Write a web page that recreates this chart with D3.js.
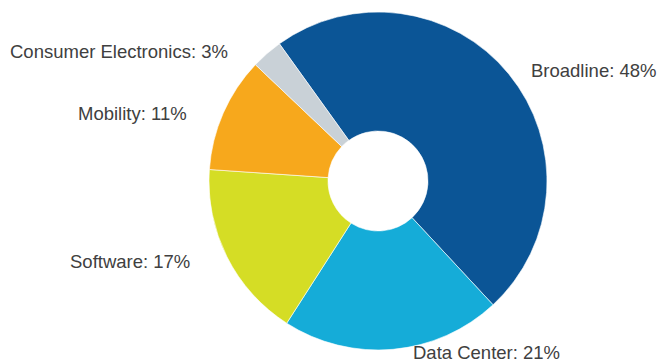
<!DOCTYPE html>
<html>
<head>
<meta charset="utf-8">
<script src="https://cdn.jsdelivr.net/npm/d3@7"></script>
<style>
  html, body { margin: 0; padding: 0; background: #fff; }
  svg { display: block; }
</style>
</head>
<body>
<div id="chart"></div>
<script>
// segment data, clockwise from the top-left
const segments = ["Broadline", "Data Center", "Software", "Mobility", "Consumer Electronics"];
const shares = [48, 21, 17, 11, 3];
const colors = ["#0b5596", "#15acd8", "#d5dd25", "#f7a81c", "#c9d1d7"];

const width = 662, height = 364;
const cx = 378, cy = 181;
const outerR = 169, innerR = 50;

// label anchor points (text-anchor start, baseline)
const labelLayout = {
  "Broadline": [531, 77],
  "Data Center": [413, 359],
  "Software": [70, 268],
  "Mobility": [78, 120],
  "Consumer Electronics": [10, 58]
};

const svg = d3.select("#chart")
  .append("svg")
  .attr("width", width)
  .attr("height", height)
  .style("font-family", "'Liberation Sans', Arial, sans-serif");

const startAngle = -35.7 * Math.PI / 180;

const pie = d3.pie()
  .sort(null)
  .value(d => d.value)
  .startAngle(startAngle)
  .endAngle(startAngle + 2 * Math.PI);

const arc = d3.arc()
  .innerRadius(innerR)
  .outerRadius(outerR);

const data = segments.map((name, i) => ({ name, value: shares[i], color: colors[i] }));

const g = svg.append("g")
  .attr("transform", `translate(${cx},${cy})`);

g.selectAll("path")
  .data(pie(data))
  .join("path")
  .attr("d", arc)
  .attr("fill", d => d.data.color)
  .attr("stroke", "#fff")
  .attr("stroke-width", 0.6);

svg.append("g")
  .selectAll("text")
  .data(data)
  .join("text")
  .attr("x", d => labelLayout[d.name][0])
  .attr("y", d => labelLayout[d.name][1])
  .attr("font-size", 18.5)
  .attr("fill", "#404040")
  .text(d => `${d.name}: ${d.value}%`);
</script>
</body>
</html>
